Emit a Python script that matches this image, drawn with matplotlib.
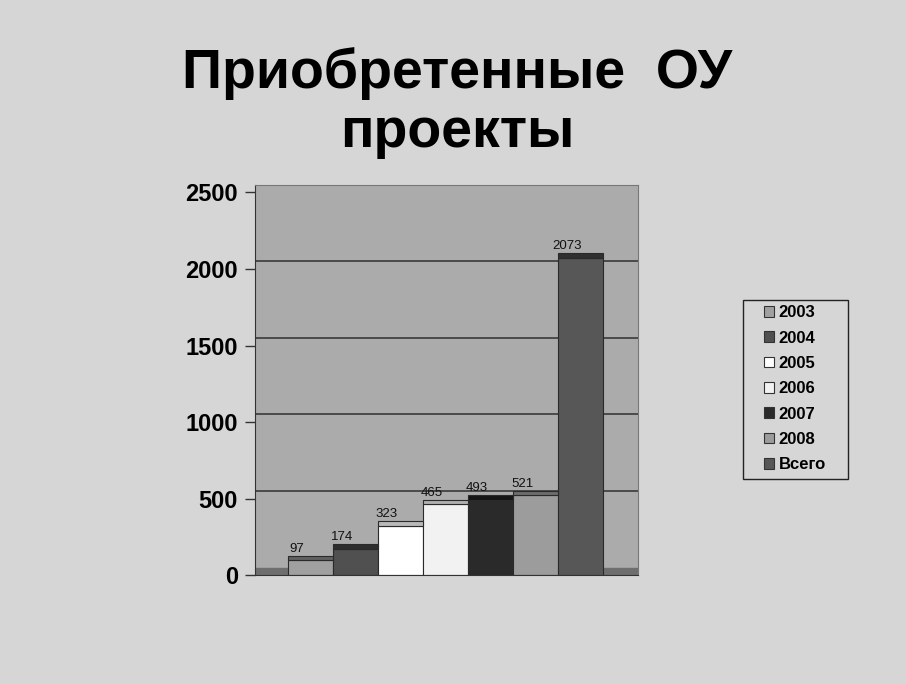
import numpy as np
import matplotlib
matplotlib.use('Agg')
import matplotlib.pyplot as plt
from matplotlib.patches import Patch, Rectangle

# data
series = ['2003', '2004', '2005', '2006', '2007', '2008', 'Всего']
values = [97, 174, 323, 465, 493, 521, 2073]
colors = ['#a0a0a0', '#505050', '#ffffff', '#f2f2f2', '#2a2a2a', '#9c9c9c', '#575757']
tops = ['#606060', '#2e2e2e', '#b8b8b8', '#b0b0b0', '#151515', '#6c6c6c', '#303030']
yticks = [0, 500, 1000, 1500, 2000, 2500]

plt.rcParams['font.family'] = ['Liberation Sans', 'DejaVu Sans']

fig = plt.figure(figsize=(9.06, 6.84), dpi=100, facecolor='#d6d6d6')
ax = fig.add_axes([0.281, 0.159, 0.423, 0.571])
ax.set_facecolor('#ababab')

x = np.arange(len(series))
ax.set_xlim(-1.24, 7.27)
ax.set_ylim(0, 2550)

# floor of the 3d look
ax.axhspan(0, 50, color='#6e6e6e', zorder=1)
for t in yticks[1:]:
    ax.axhline(t + 50, color='#3a3a3a', lw=1.2, zorder=1)

ax.bar(x, values, width=1.0, color=colors, edgecolor='#2a2a2a', lw=0.8, zorder=2)
# thin top face
ax.bar(x, 28, bottom=values, width=1.0, color=tops, edgecolor='#2a2a2a', lw=0.8, zorder=3)
for xi, v in zip(x, values):
    ax.text(xi - 0.3, v + 75, str(v), ha='center', va='center', fontsize=9.5, color='#111111', zorder=4)

ax.set_xticks([])
ax.set_yticks(yticks)
ax.set_yticklabels([str(t) for t in yticks], fontsize=17, fontweight='bold')
ax.tick_params(axis='y', direction='out', length=7, width=1, pad=5, color='#333333')
for s in ['top', 'right']:
    ax.spines[s].set_color('#777777')
ax.spines['left'].set_color('#333333')
ax.spines['bottom'].set_color('#333333')

fig.text(0.505, 0.892, 'Приобретенные  ОУ', ha='center', va='center', fontsize=40, fontweight='bold')
fig.text(0.505, 0.806, 'проекты', ha='center', va='center', fontsize=40, fontweight='bold')

# legend box drawn separately so it can be wider than its entries
fig.patches.append(Rectangle((743 / 906, 1 - 479 / 684), 105 / 906, 179 / 684,
                             transform=fig.transFigure, facecolor='#d6d6d6',
                             edgecolor='#222222', lw=1.0, zorder=0))
handles = [Patch(facecolor=c, edgecolor='#333333', lw=0.8) for c in colors]
leg = fig.legend(handles, series, loc='upper left', bbox_to_anchor=(0.838, 0.561),
                 prop={'weight': 'bold', 'size': 12}, handlelength=0.6, handleheight=0.6,
                 handletextpad=0.25, labelspacing=0.62, borderpad=0.3, frameon=False,
                 borderaxespad=0)

fig.savefig('out.png', dpi=100, facecolor=fig.get_facecolor())
